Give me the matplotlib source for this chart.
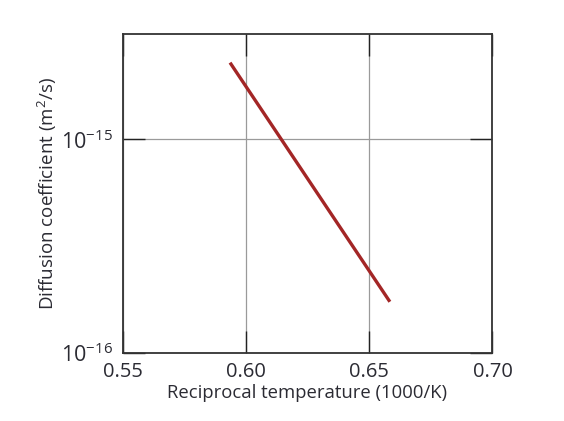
import matplotlib
matplotlib.use("Agg")
import matplotlib.pyplot as plt
from matplotlib.ticker import FixedLocator, NullLocator, FixedFormatter

# Data
recip_temp = [0.5936, 0.6584]          # 1000/K
diff_coeff = [2.29e-15, 1.73e-16]      # m^2/s
x_ticks = [0.55, 0.60, 0.65, 0.70]
x_tick_labels = ["0.55", "0.60", "0.65", "0.70"]
y_ticks = [1e-16, 1e-15]
y_tick_labels = [r"$\mathregular{10^{-16}}$", r"$\mathregular{10^{-15}}$"]

plt.rcParams['font.family'] = ['Open Sans', 'DejaVu Sans']
plt.rcParams['mathtext.fontset'] = 'custom'
plt.rcParams['mathtext.rm'] = 'Open Sans'
text_color = '#2b2b33'

fig = plt.figure(figsize=(5.64, 4.21), dpi=100)
ax = fig.add_axes([0.2172, 0.1627, 0.656, 0.7565])

ax.plot(recip_temp, diff_coeff, color='#a32626', lw=2.4, solid_capstyle='butt')

ax.set_yscale('log')
ax.set_xlim(0.55, 0.70)
ax.set_ylim(1e-16, 3.12e-15)

ax.xaxis.set_major_locator(FixedLocator(x_ticks))
ax.xaxis.set_major_formatter(FixedFormatter(x_tick_labels))
ax.yaxis.set_major_locator(FixedLocator(y_ticks))
ax.yaxis.set_major_formatter(FixedFormatter(y_tick_labels))
ax.yaxis.set_minor_locator(NullLocator())
ax.xaxis.set_minor_locator(NullLocator())

ax.grid(True, color='#9a9a9a', lw=0.9)
ax.tick_params(which='major', direction='in', length=16, width=1.0, color='#222222',
               top=True, right=True, labelcolor=text_color)
ax.tick_params(axis='x', labelsize=14.5, pad=7)
ax.tick_params(axis='y', labelsize=15.5, pad=7)

for s in ax.spines.values():
    s.set_color('#333333')
    s.set_linewidth(1.3)

ax.set_xlabel('Reciprocal temperature (1000/K)', fontsize=13.3, color=text_color, labelpad=1)
ax.set_ylabel('Diffusion coefficient (m$^2$/s)', fontsize=13.5, color=text_color, labelpad=1)

fig.savefig('out.png', dpi=100)
